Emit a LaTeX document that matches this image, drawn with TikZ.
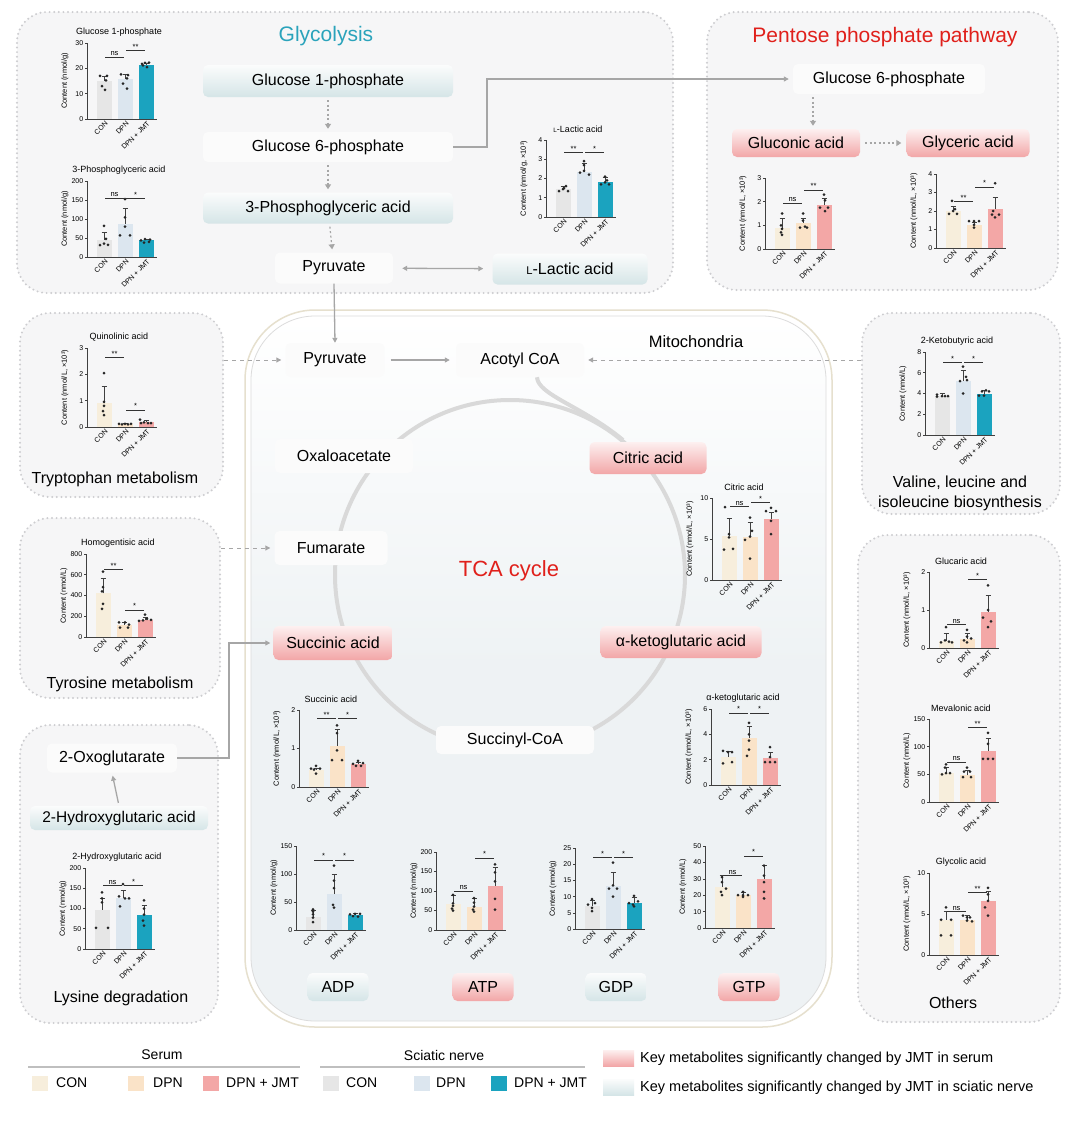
\documentclass[tikz,border=0pt]{standalone}
\usepackage{fontspec}
\setmainfont{Liberation Sans}
\usetikzlibrary{arrows.meta,calc}
\definecolor{scon}{HTML}{E6E6E6}
\definecolor{sdpn}{HTML}{DCE6EF}
\definecolor{sjmt}{HTML}{1BA3BF}
\definecolor{econ}{HTML}{F7EEDC}
\definecolor{edpn}{HTML}{FAE3C8}
\definecolor{ejmt}{HTML}{F3A7A6}
\definecolor{regfill}{HTML}{F6F6F7}
\definecolor{regline}{HTML}{CDCDD0}
\definecolor{mitofill}{HTML}{EEF2F4}
\definecolor{mitoline}{HTML}{E6E0CE}
\definecolor{mitoline2}{HTML}{DCDCDC}
\definecolor{glyteal}{HTML}{2AA3BB}
\definecolor{pppred}{HTML}{E0201B}
\definecolor{agray}{HTML}{A6A6A6}
\definecolor{tealtop}{HTML}{FBFCFC}
\definecolor{tealbot}{HTML}{D5E5E7}
\definecolor{redtop}{HTML}{FDF0F0}
\definecolor{redbot}{HTML}{F2A6A7}
\definecolor{plainfill}{HTML}{FBFBFB}
\definecolor{cyclegray}{HTML}{D9D9D9}
\tikzset{
 region/.style={fill=regfill, draw=regline, line width=2.2pt, dash pattern=on 0pt off 4.6pt, line cap=round, rounded corners=30pt, inner sep=0pt},
 mnode/.style={font=\fontsize{16}{19}\selectfont, rounded corners=5pt, inner sep=0pt},
 plainnode/.style={mnode, fill=plainfill},
 tealnode/.style={mnode, top color=tealtop, bottom color=tealbot},
 rednode/.style={mnode, top color=redtop, bottom color=redbot},
 dotarrow/.style={draw=agray, line width=1.2pt, dash pattern=on 2pt off 2.5pt, -{Triangle[length=5pt,width=6pt]}, shorten <=3pt, shorten >=3pt},
 conn/.style={draw=agray, line width=1.3pt, -{Triangle[length=5pt,width=5pt]}},
 dblarrow/.style={draw=agray, line width=1.3pt, {Triangle[length=5pt,width=5pt]}-{Triangle[length=5pt,width=5pt]}, shorten <=9pt, shorten >=9pt},
 dasharrow/.style={draw=agray, line width=1pt, dash pattern=on 4pt off 4pt, -{Triangle[length=5pt,width=5pt]}, shorten >=4pt},
 cyc/.style={draw=cyclegray, line width=4pt},
 ctitle/.style={font=\fontsize{9}{10}\selectfont, inner sep=0pt},
 clab/.style={font=\fontsize{7.5}{8}\selectfont, inner sep=0pt},
 ctick/.style={font=\fontsize{7}{7}\selectfont, inner sep=1pt},
 cxl/.style={font=\fontsize{7}{7}\selectfont, inner sep=0.5pt, rotate=45, anchor=east},
 caxis/.style={draw=black!75, line width=0.6pt},
 cerr/.style={draw=black!75, line width=0.5pt},
 cdot/.style={fill=black!85},
 csigl/.style={draw=black!80, line width=0.6pt},
 csigt/.style={font=\fontsize{7.5}{7.5}\selectfont, inner sep=0.8pt},
 sectlabel/.style={font=\fontsize{16}{20}\selectfont, inner sep=0pt, align=center},
 legtext/.style={font=\fontsize{14}{16}\selectfont, inner sep=0pt, anchor=west},
 keytext/.style={font=\fontsize{14.5}{16}\selectfont, inner sep=0pt, anchor=west},
 legsq/.style={minimum width=16pt, minimum height=15pt, inner sep=0pt},
}
% chart: #1 x, #2 y of axis origin, #3 axis height, #4 ymax, #5 ticks, #6 title, #7 y label, #8 bars
\newcommand\mychart[8]{%
\begin{scope}[shift={(#1,#2)}]
\pgfmathsetmacro\chs{#3/#4}
\begin{scope}[y={(0pt,\chs pt)}]
 \node[ctitle, yshift=11pt] at (32,#4) {#6};
 \node[clab, rotate=90] at (-22,#4/2) {#7};
 \foreach \tk in {#5} {\draw[caxis] (0,\tk) -- (-2.5,\tk) node[ctick, left] {\tk};}
 #8
 \draw[caxis] (0,#4) -- (0,0) -- (70,0);
 \node[cxl] at ([shift={(3pt,-3pt)}]17,0) {CON};
 \node[cxl] at ([shift={(3pt,-3pt)}]38,0) {DPN};
 \node[cxl] at ([shift={(3pt,-3pt)}]59,0) {DPN + JMT};
\end{scope}
\end{scope}}
% bar: #1 index, #2 value, #3 error top, #4 colour, #5 dots
\newcommand\cbar[5]{%
 \pgfmathsetmacro\cx{17+21*(#1-1)}
 \fill[#4] (\cx-7.5,0) rectangle (\cx+7.5,#2);
 \draw[cerr] (\cx,#2) -- (\cx,#3) (\cx-2.5,#3) -- (\cx+2.5,#3);
 \foreach \dx/\dv in {#5} {\fill[cdot] (\cx+\dx,\dv) circle (1.5pt);}
}
\newcommand\csig[4]{%
 \pgfmathsetmacro\ca{17+21*(#1-1)+1}\pgfmathsetmacro\cb{17+21*(#2-1)-1}
 \draw[csigl] (\ca,#3) -- (\cb,#3) node[midway, above, csigt] {#4};
}
\newcommand\smallL{{\fontsize{0.7em}{1em}\selectfont L}}
\begin{document}
\begin{tikzpicture}[x=1pt,y=-1pt]
\useasboundingbox (0,0) rectangle (1080,1125);
\fill[white] (0,0) rectangle (1080,1125);
% ---------- regions ----------
\node[region, minimum width=656pt, minimum height=281pt] (glyR) at (345,152.5) {};
\node[region, minimum width=351pt, minimum height=278pt] (pppR) at (882.5,151) {};
\node[region, minimum width=203pt, minimum height=184pt] (trp) at (121.5,405) {};
\node[region, minimum width=198pt, minimum height=201pt] (val) at (961,413.5) {};
\node[region, minimum width=200pt, minimum height=180pt] (tyr) at (120,608) {};
\node[region, minimum width=198pt, minimum height=298pt] (lys) at (119,874) {};
\node[region, minimum width=202pt, minimum height=487pt] (oth) at (959,778.5) {};
% ---------- mitochondria ----------
\draw[draw=mitoline, line width=1.5pt, fill=white, rounded corners=70pt] (245,310) rectangle (832,1027);
\draw[draw=mitoline2, line width=0.8pt, top color=white, bottom color=mitofill, middle color=mitofill, rounded corners=64pt] (251,316) rectangle (826,1021);
\node[font=\fontsize{16.5}{19}\selectfont] (mito) at (696,342) {Mitochondria};
\draw[cyc] (510,575) circle (175pt);
% ---------- titles ----------
\node[font=\fontsize{21}{24}\selectfont, text=glyteal] (tgly) at (326,36) {Glycolysis};
\node[font=\fontsize{21}{24}\selectfont, text=pppred] (tppp) at (885,37) {Pentose phosphate pathway};
\node[font=\fontsize{22}{24}\selectfont, text=pppred] (ttca) at (509,571) {TCA cycle};
% ---------- metabolite nodes ----------
\node[tealnode, minimum width=250pt, minimum height=32pt] (g1p) at (328,81) {Glucose 1-phosphate};
\node[plainnode, minimum width=250pt, minimum height=30pt] (g6p) at (328,147) {Glucose 6-phosphate};
\node[tealnode, minimum width=250pt, minimum height=31pt] (pg3) at (328,208) {3-Phosphoglyceric acid};
\node[plainnode, minimum width=118pt, minimum height=31pt] (pyrG) at (334,268) {Pyruvate};
\node[tealnode, minimum width=155pt, minimum height=31pt] (lac) at (570,269) {\smallL-Lactic acid};
\node[plainnode, minimum width=192pt, minimum height=30pt] (pg6) at (889,79) {Glucose 6-phosphate};
\node[rednode, minimum width=128pt, minimum height=28pt] (glc) at (796,143) {Gluconic acid};
\node[rednode, minimum width=123pt, minimum height=28pt] (gly) at (968,143) {Glyceric acid};
\node[plainnode, minimum width=99pt, minimum height=34pt] (pyrT) at (335,360) {Pyruvate};
\node[plainnode, minimum width=128pt, minimum height=34pt] (acoa) at (520,360) {Acotyl CoA};
\node[plainnode, minimum width=138pt, minimum height=34pt] (oxa) at (344,456) {Oxaloacetate};
\node[rednode, minimum width=117pt, minimum height=32pt] (cit) at (648,458) {Citric acid};
\node[plainnode, minimum width=113pt, minimum height=34pt] (fum) at (331,548) {Fumarate};
\node[rednode, minimum width=119pt, minimum height=34pt] (suc) at (333,643) {Succinic acid};
\node[rednode, minimum width=161pt, minimum height=32pt] (akg) at (681,642) {α-ketoglutaric acid};
\node[plainnode, minimum width=158pt, minimum height=28pt] (scoa) at (515,740) {Succinyl-CoA};
\node[tealnode, minimum width=61pt, minimum height=28pt] (adp) at (338,987) {ADP};
\node[rednode, minimum width=61pt, minimum height=28pt] (atp) at (483,987) {ATP};
\node[tealnode, minimum width=61pt, minimum height=28pt] (gdp) at (616,987) {GDP};
\node[rednode, minimum width=61pt, minimum height=28pt] (gtp) at (749,987) {GTP};
\node[plainnode, minimum width=130pt, minimum height=29pt] (oxg) at (112,758) {2-Oxoglutarate};
\node[tealnode, minimum width=178pt, minimum height=24pt, font=\fontsize{15.5}{18}\selectfont] (hga) at (119,818) {2-Hydroxyglutaric acid};
% ---------- section labels ----------
\node[sectlabel] (ltrp) at (115,479) {Tryptophan metabolism};
\node[sectlabel] (ltyr) at (120,684) {Tyrosine metabolism};
\node[sectlabel] (llys) at (121,998) {Lysine degradation};
\node[sectlabel] (lval1) at (960,483) {Valine, leucine and};
\node[sectlabel] (lval2) at (960,503) {isoleucine biosynthesis};
\node[sectlabel] (loth) at (953,1003) {Others};
% ---------- connectors ----------
\draw[dotarrow] (g1p) -- (g6p);
\draw[dotarrow] (g6p) -- (pg3);
\draw[dotarrow] (pg3) -- (pyrG);
\draw[dblarrow] (pyrG) -- (lac);
\coordinate (b1) at (487,147);
\draw[conn, shorten >=4pt] (g6p.east) -- (b1) |- (pg6.west);
\draw[dotarrow] ([xshift=-76pt]pg6.south) -- ([xshift=17pt]glc.north);
\draw[dotarrow, shorten <=5pt, shorten >=5pt] (glc) -- (gly);
\draw[conn] (pyrG.south) -- (pyrT.north);
\draw[conn, shorten <=6pt, shorten >=6pt] (pyrT) -- (acoa);
\draw[dasharrow] (trp.east |- pyrT.west) -- (pyrT.west);
\draw[dasharrow] (tyr.east |- fum.west) -- (fum.west);
\draw[dasharrow] (val.west |- acoa.east) -- (acoa.east);
\coordinate (b2) at (229,758);
\draw[conn, shorten >=3pt] (oxg.east) -- (b2) |- (suc.west);
\draw[conn, shorten <=3pt, shorten >=3pt] (hga.north) -- (oxg.south);
\draw[cyc] ([xshift=17pt]acoa.south) .. controls (538,395) and (582,406) .. (623,440);
% ---------- charts ----------
\mychart{87}{119}{76}{30}{0,10,20,30}{Glucose 1-phosphate}{Content (nmol/g)}{%
 \cbar{1}{15}{16.8}{scon}{-4/17,3/17,2/15.2,-2/13,1/11.5}
 \cbar{2}{15.7}{17.5}{sdpn}{-4/17.6,3/17.3,2/16,-2/14,2/12}
 \cbar{3}{21.5}{22.2}{sjmt}{-4/21.8,-1/22.2,3/22.3,1/20.5,-3/21.2}
 \csig{1}{2}{24.5}{ns}\csig{2}{3}{27}{**}}
\mychart{87}{257}{76}{200}{0,50,100,150,200}{3-Phosphoglyceric acid}{Content (nmol/g)}{%
 \cbar{1}{45}{65}{scon}{0/82,-4/31,0/35,4/32,2/48}
 \cbar{2}{88}{127}{sdpn}{0/152,0/104,-5/57,5/57,0/80}
 \cbar{3}{44}{48}{sjmt}{-5/44,-1/47,4/46,3/40,-2/38}
 \csig{1}{2}{155}{ns}\csig{2}{3}{155}{*}}
\mychart{546}{217}{77}{4}{0,1,2,3,4}{\smallL-Lactic acid}{Content (nmol/g, ×10³)}{%
 \cbar{1}{1.45}{1.6}{scon}{-4/1.35,0/1.45,3/1.6,5/1.35,1/1.5}
 \cbar{2}{2.35}{2.8}{sdpn}{0/2.9,0/2.7,-4/2.3,0/2.4,5/2.2}
 \cbar{3}{1.8}{2.05}{sjmt}{0/2.1,-4/1.7,0/1.8,4/1.7,2/1.9}
 \csig{1}{2}{3.35}{**}\csig{2}{3}{3.35}{*}}
\mychart{765}{249}{71}{3}{0,1,2,3}{}{Content (nmol/L, ×10³)}{%
 \cbar{1}{0.9}{1.3}{econ}{0/1.5,-1/1.0,0/0.85,-1/0.7,0/0.6}
 \cbar{2}{1.1}{1.3}{edpn}{0/1.5,0/1.2,-3/0.9,2/0.95,4/0.9}
 \cbar{3}{1.85}{2.15}{ejmt}{0/2.3,1/2.05,-4/1.75,4/1.75,1/1.6}
 \csig{1}{2}{1.95}{ns}\csig{2}{3}{2.5}{**}}
\mychart{936}{248}{74}{4}{0,1,2,3,4}{}{Content (nmol/L, ×10³)}{%
 \cbar{1}{2.0}{2.25}{econ}{-1/2.55,-4/1.85,0/2.0,4/1.85,2/2.1}
 \cbar{2}{1.25}{1.4}{edpn}{-5/1.45,0/1.45,5/1.45,0/1.25,0/1.1}
 \cbar{3}{2.1}{2.75}{ejmt}{0/3.5,-3/1.8,4/1.8,0/1.65,-2/2.0}
 \csig{1}{2}{2.5}{**}\csig{2}{3}{3.3}{*}}
\mychart{87}{427}{79}{3}{0,1,2,3}{Quinolinic acid}{Content (nmol/L, ×10³)}{%
 \cbar{1}{0.9}{1.55}{econ}{0/2.05,0/0.95,0/0.8,-1/0.6,0/0.45}
 \cbar{2}{0.12}{0.15}{edpn}{-6/0.12,-3/0.1,0/0.12,3/0.1,6/0.12}
 \cbar{3}{0.18}{0.25}{ejmt}{-6/0.28,-2/0.18,2/0.15,5/0.15,-5/0.15}
 \csig{1}{2}{2.65}{**}\csig{2}{3}{0.65}{*}}
\mychart{86}{637}{83}{800}{0,200,400,600,800}{Homogentisic acid}{Content (nmol/L)}{%
 \cbar{1}{420}{570}{econ}{0/630,0/480,-1/440,0/320,-1/270}
 \cbar{2}{120}{140}{edpn}{-5/140,1/140,5/120,-4/90,4/90}
 \cbar{3}{165}{190}{ejmt}{-6/155,-2/160,2/175,6/165,0/215}
 \csig{1}{2}{650}{**}\csig{2}{3}{260}{*}}
\mychart{85}{949}{81}{200}{0,50,100,150,200}{2-Hydroxyglutaric acid}{Content (nmol/g)}{%
 \cbar{1}{97}{125}{scon}{0/140,0/125,0/115,-6/52,6/52}
 \cbar{2}{125}{145}{sdpn}{0/160,-4/130,2/125,6/125,-3/105}
 \cbar{3}{85}{108}{sjmt}{0/120,0/100,0/85,-1/70,0/58}
 \csig{1}{2}{157}{ns}\csig{2}{3}{157}{*}}
\mychart{925}{435}{83}{8}{0,2,4,6,8}{2-Ketobutyric acid}{Content (nmol/L)}{%
 \cbar{1}{3.8}{4.0}{scon}{-5/3.9,-5/3.7,0/3.75,3/3.75,6/3.75}
 \cbar{2}{5.2}{6.2}{sdpn}{0/6.6,3/5.6,-3/5.2,4/5.3,0/4.0}
 \cbar{3}{4.0}{4.3}{sjmt}{-5/3.8,-2/4.2,2/4.3,5/4.2,0/3.8}
 \csig{1}{2}{7.0}{*}\csig{2}{3}{7.0}{*}}
\mychart{712}{580}{82}{10}{0,5,10}{Citric acid}{Content (nmol/L, ×10³)}{%
 \cbar{1}{5.4}{7.5}{econ}{-4/8.9,0/5.6,0/5.2,-5/3.7,4/3.8}
 \cbar{2}{5.2}{7.0}{edpn}{-5/4.9,0/5.3,0/7.6,0/2.6,2/6.0}
 \cbar{3}{7.5}{8.3}{ejmt}{-5/8.4,0/8.8,5/8.4,0/7.2,0/5.6}
 \csig{1}{2}{9.0}{ns}\csig{2}{3}{9.5}{*}}
\mychart{711}{785}{76}{6}{0,2,4,6}{α-ketoglutaric acid}{Content (nmol/L, ×10³)}{%
 \cbar{1}{2.2}{2.7}{econ}{-5/2.7,0/2.6,4/2.6,-5/1.7,4/1.8}
 \cbar{2}{3.7}{4.6}{edpn}{0/4.9,0/4.0,0/3.5,0/2.8,-2/2.3}
 \cbar{3}{2.1}{2.6}{ejmt}{0/3.0,0/2.2,-5/1.8,0/1.8,5/1.8}
 \csig{1}{2}{5.7}{*}\csig{2}{3}{5.7}{*}}
\mychart{299}{787}{77}{2}{0,1,2}{Succinic acid}{Content (nmol/L, ×10³)}{%
 \cbar{1}{0.45}{0.5}{econ}{-5/0.48,0/0.55,4/0.48,0/0.35,-2/0.45}
 \cbar{2}{1.07}{1.5}{edpn}{0/1.6,0/1.4,0/0.95,-5/0.7,5/0.7}
 \cbar{3}{0.6}{0.65}{ejmt}{-5/0.6,0/0.68,5/0.62,-2/0.55,3/0.55}
 \csig{1}{2}{1.78}{**}\csig{2}{3}{1.78}{*}}
\mychart{296}{930}{84}{150}{0,50,100,150}{}{Content (nmol/g)}{%
 \cbar{1}{24}{35}{scon}{0/37,0/33,0/28,0/22,0/14}
 \cbar{2}{64}{100}{sdpn}{0/115,0/88,0/75,-1/45,0/40}
 \cbar{3}{27}{30}{sjmt}{-5/28,0/29,5/29,-2/25,3/24}
 \csig{1}{2}{125}{*}\csig{2}{3}{125}{*}}
\mychart{436}{930}{78}{200}{0,50,100,150,200}{}{Content (nmol/g)}{%
 \cbar{1}{67}{90}{econ}{0/90,0/68,0/62,-1/55,0/50}
 \cbar{2}{60}{82}{edpn}{0/82,0/70,0/60,-1/52,0/47}
 \cbar{3}{114}{160}{ejmt}{0/168,0/148,0/125,0/80,0/52}
 \csig{1}{2}{100}{ns}\csig{2}{3}{185}{*}}
\mychart{575}{929}{81}{25}{0,5,10,15,20,25}{}{Content (nmol/g)}{%
 \cbar{1}{7.2}{8.8}{scon}{0/9.2,-4/7.5,3/8,0/6.5,0/5.5}
 \cbar{2}{13.3}{17.5}{sdpn}{0/20.5,0/13.5,-4/12.5,4/12.5,0/10}
 \cbar{3}{8.0}{9.8}{sjmt}{0/10.2,-5/8,4/8.5,0/7,-1/7.5}
 \csig{1}{2}{22}{*}\csig{2}{3}{22}{*}}
\mychart{705}{928}{82}{50}{0,10,20,30,40,50}{}{Content (nmol/L)}{%
 \cbar{1}{25}{32}{econ}{0/31,0/28,-1/22,4/24,0/20}
 \cbar{2}{20}{22}{edpn}{0/22,-5/20,0/20,5/20,0/19}
 \cbar{3}{30}{38}{ejmt}{0/38,0/32,0/28,0/22,0/18}
 \csig{1}{2}{32}{ns}\csig{2}{3}{44}{*}}
\mychart{929}{648}{76}{2}{0,1,2}{Glucaric acid}{Content (nmol/L, ×10³)}{%
 \cbar{1}{0.18}{0.4}{econ}{-5/0.15,-1/0.2,3/0.17,6/0.15,0/0.55}
 \cbar{2}{0.25}{0.4}{edpn}{0/0.48,0/0.3,-3/0.2,4/0.25,0/0.15}
 \cbar{3}{0.95}{1.38}{ejmt}{0/1.65,0/1.0,-5/0.8,3/0.7,0/0.55}
 \csig{1}{2}{0.62}{ns}\csig{2}{3}{1.8}{*}}
\mychart{929}{802}{83}{150}{0,50,100,150}{Mevalonic acid}{Content (nmol/L)}{%
 \cbar{1}{52}{62}{econ}{0/68,-1/62,0/52,-4/50,4/52}
 \cbar{2}{48}{58}{edpn}{0/62,-3/55,3/55,-4/45,4/45}
 \cbar{3}{92}{115}{ejmt}{0/125,0/105,-5/78,0/78,5/78}
 \csig{1}{2}{72}{ns}\csig{2}{3}{135}{**}}
\mychart{929}{955}{82}{10}{0,5,10}{Glycolic acid}{Content (nmol/L, ×10³)}{%
 \cbar{1}{4.3}{5.3}{econ}{0/5.8,-5/4.3,5/4.3,-5/2.4,5/2.4}
 \cbar{2}{4.3}{4.8}{edpn}{-4/4.8,0/4.6,3/4.6,0/4.2,5/4.1}
 \cbar{3}{6.6}{7.8}{ejmt}{0/8.2,0/7.4,0/6.6,-3/5.8,0/4.8}
 \csig{1}{2}{5.3}{ns}\csig{2}{3}{7.6}{**}}
% ---------- legend ----------
\node[font=\fontsize{14}{16}\selectfont] (lser) at (162,1055) {Serum};
\draw[draw=black!25, line width=2pt] (28,1067) -- (300,1067);
\node[legsq, fill=econ] (l1) at (39.5,1083) {};
\node[legtext] at (56,1083) {CON};
\node[legsq, fill=edpn] (l2) at (136,1083) {};
\node[legtext] at (153,1083) {DPN};
\node[legsq, fill=ejmt] (l3) at (211,1083) {};
\node[legtext] at (226,1083) {DPN + JMT};
\node[font=\fontsize{14}{16}\selectfont] (lsci) at (444,1055) {Sciatic nerve};
\draw[draw=black!25, line width=2pt] (320,1067) -- (585,1067);
\node[legsq, fill=scon] (l4) at (331,1083) {};
\node[legtext] at (346,1083) {CON};
\node[legsq, fill=sdpn] (l5) at (421.5,1083) {};
\node[legtext] at (436,1083) {DPN};
\node[legsq, fill=sjmt] (l6) at (499,1083) {};
\node[legtext] at (514,1083) {DPN + JMT};
\node[minimum width=31pt, minimum height=16pt, inner sep=0pt, top color=redtop, bottom color=redbot] (k1) at (618.5,1058) {};
\node[keytext] at (640,1059) {Key metabolites significantly changed by JMT in serum};
\node[minimum width=31pt, minimum height=16pt, inner sep=0pt, top color=tealtop, bottom color=tealbot] (k2) at (618.5,1087) {};
\node[keytext] at (640,1088) {Key metabolites significantly changed by JMT in sciatic nerve};
\end{tikzpicture}
\end{document}
